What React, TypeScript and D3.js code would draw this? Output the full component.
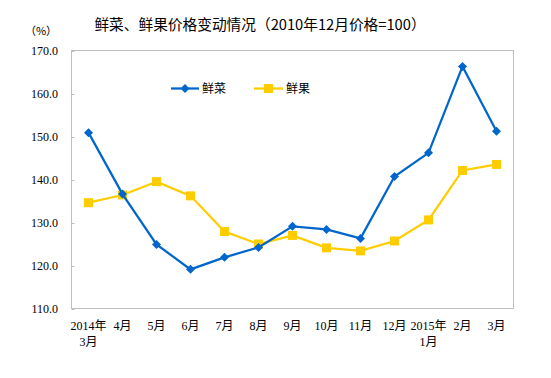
import React from "react";
import * as d3 from "d3";

const categories = ["2014年\n3月", "4月", "5月", "6月", "7月", "8月", "9月", "10月", "11月", "12月", "2015年\n1月", "2月", "3月"];
const vegetables = [150.9, 136.6, 124.9, 119.1, 121.9, 124.2, 129.1, 128.4, 126.3, 140.7, 146.2, 166.3, 151.2];
const fruits = [134.6, 136.4, 139.5, 136.2, 127.9, 125.0, 127.0, 124.1, 123.4, 125.7, 130.6, 142.1, 143.5];
const yTicks = [110, 120, 130, 140, 150, 160, 170];
const seriesNames = ["鲜菜", "鲜果"];

const W = 551, H = 378;
const left = 71.5, right = 513.5, top = 50.5, bottom = 308.5;
const BLUE = "#0066CC", YELLOW = "#FFCC00";
const serif = "'Times New Roman', 'Liberation Serif', 'Noto Sans CJK SC', serif";
const cjk = "'SimHei', 'Noto Sans CJK SC', sans-serif";

export default function App() {
  const x = d3.scaleBand<number>().domain(d3.range(categories.length)).range([left, right]);
  const y = d3.scaleLinear().domain([110, 170]).range([bottom, top]);
  const cx = (i: number) => (x(i) as number) + x.bandwidth() / 2;
  const line = d3.line<number>().x((_, i) => cx(i)).y((d) => y(d));
  const diamond = (px: number, py: number, r: number) => `M${px},${py - r}L${px + r},${py}L${px},${py + r}L${px - r},${py}Z`;

  return (
    <svg width={W} height={H} style={{ position: "absolute", left: 0, top: 0 }}>
      <rect x={0} y={0} width={W} height={H} fill="#fff" />
      <text x={260} y={30} textAnchor="middle" fontFamily={cjk} fontSize={14.7} fill="#000">
        鲜菜、鲜果价格变动情况（2010年12月价格=100）
      </text>
      <text x={41} y={35} textAnchor="middle" fontFamily={cjk} fontSize={11} fill="#000">（%）</text>
      <rect x={left} y={top} width={right - left} height={bottom - top} fill="none" stroke="#BFBFBF" strokeWidth={1} />
      {yTicks.map((t) => (
        <g key={t}>
          <line x1={left} x2={left + 3} y1={Math.round(y(t)) + 0.5} y2={Math.round(y(t)) + 0.5} stroke="#BFBFBF" />
          <text x={58} y={y(t) + 4} textAnchor="end" fontFamily={serif} fontSize={12} fill="#000">
            {t.toFixed(1)}
          </text>
        </g>
      ))}
      {categories.map((c, i) => {
        const lines = c.split("\n");
        return (
          <text key={i} x={cx(i)} y={330} textAnchor="middle" fontFamily={serif} fontSize={12} fill="#000">
            {lines.map((l, j) => (
              <tspan key={j} x={cx(i)} dy={j === 0 ? 0 : 16}>{l}</tspan>
            ))}
          </text>
        );
      })}
      <path d={line(fruits) || ""} fill="none" stroke={YELLOW} strokeWidth={2.25} />
      {fruits.map((v, i) => (
        <rect key={i} x={cx(i) - 4.5} y={y(v) - 4.5} width={9} height={9} fill={YELLOW} />
      ))}
      <path d={line(vegetables) || ""} fill="none" stroke={BLUE} strokeWidth={2.25} />
      {vegetables.map((v, i) => (
        <path key={i} d={diamond(cx(i), y(v), 4.5)} fill={BLUE} />
      ))}
      {/* legend */}
      <line x1={171} x2={199} y1={88.5} y2={88.5} stroke={BLUE} strokeWidth={2.25} />
      <path d={diamond(185, 88.5, 4.5)} fill={BLUE} />
      <text x={202} y={93} fontFamily={cjk} fontSize={12} fill="#000">{seriesNames[0]}</text>
      <line x1={254} x2={283} y1={88.5} y2={88.5} stroke={YELLOW} strokeWidth={2.25} />
      <rect x={264} y={84} width={9} height={9} fill={YELLOW} />
      <text x={286} y={93} fontFamily={cjk} fontSize={12} fill="#000">{seriesNames[1]}</text>
    </svg>
  );
}
